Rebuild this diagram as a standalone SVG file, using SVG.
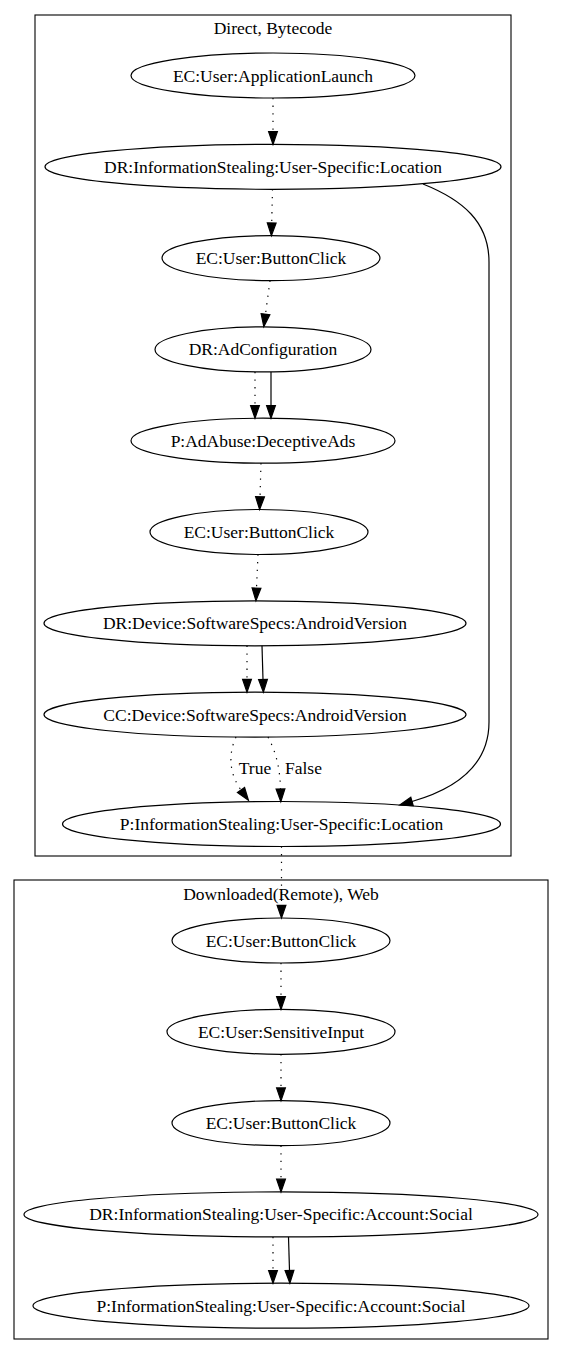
<svg xmlns="http://www.w3.org/2000/svg" width="563" height="1354" viewBox="0 0 563 1354">
  <style>
    .cluster { fill: none; stroke: #000; stroke-width: 1.1; }
    .node ellipse { fill: none; stroke: #000; stroke-width: 1.2; }
    text { font-family: "Liberation Serif", "Times New Roman", serif; font-size: 17.5px; fill: #000; }
    .node text, .title, .elabel.mid { text-anchor: middle; }
    .edge { fill: none; stroke: #000; stroke-width: 1.2; }
    .dot { stroke-dasharray: 1.3 6.3; marker-end: url(#headDot); }
    .solid { marker-end: url(#head); }
  </style>
  <defs>
    <marker id="head" markerUnits="userSpaceOnUse" markerWidth="14" markerHeight="10" refX="0" refY="0" orient="auto" overflow="visible">
      <polygon points="0,-4.4 12.7,0 0,4.4" fill="#000" stroke="#000" stroke-width="1.2"/>
    </marker>
    <marker id="headDot" markerUnits="userSpaceOnUse" markerWidth="14" markerHeight="10" refX="0" refY="0" orient="auto" overflow="visible">
      <polygon points="0,-4.4 12.7,0 0,4.4" fill="#000" stroke="#000" stroke-width="1.2"/>
    </marker>
  </defs>
  <rect x="0" y="0" width="563" height="1354" fill="#fff"/>

  <!-- clusters -->
  <g id="cluster_direct">
    <rect class="cluster" x="35" y="15" width="476" height="841"/>
    <text class="title" x="273" y="34">Direct, Bytecode</text>
  </g>
  <g id="cluster_remote">
    <rect class="cluster" x="14" y="880" width="534" height="459"/>
    <text class="title" x="281" y="900">Downloaded(Remote), Web</text>
  </g>

  <!-- nodes: Direct, Bytecode -->
  <g id="n1" class="node"><ellipse cx="273" cy="75.5" rx="142" ry="22.5"/><text x="273" y="81.5">EC:User:ApplicationLaunch</text></g>
  <g id="n2" class="node"><ellipse cx="273" cy="166.8" rx="228" ry="22.5"/><text x="273" y="172.8">DR:InformationStealing:User-Specific:Location</text></g>
  <g id="n3" class="node"><ellipse cx="271" cy="258.1" rx="109" ry="22.5"/><text x="271" y="264.1">EC:User:ButtonClick</text></g>
  <g id="n4" class="node"><ellipse cx="263" cy="349.4" rx="108" ry="22.5"/><text x="263" y="355.4">DR:AdConfiguration</text></g>
  <g id="n5" class="node"><ellipse cx="263" cy="440.7" rx="132" ry="22.5"/><text x="263" y="446.7">P:AdAbuse:DeceptiveAds</text></g>
  <g id="n6" class="node"><ellipse cx="259" cy="532" rx="109" ry="22.5"/><text x="259" y="538">EC:User:ButtonClick</text></g>
  <g id="n7" class="node"><ellipse cx="255" cy="623.3" rx="211" ry="22.5"/><text x="255" y="629.3">DR:Device:SoftwareSpecs:AndroidVersion</text></g>
  <g id="n8" class="node"><ellipse cx="255" cy="714.6" rx="211" ry="22.5"/><text x="255" y="720.6">CC:Device:SoftwareSpecs:AndroidVersion</text></g>
  <g id="n9" class="node"><ellipse cx="281.5" cy="824" rx="219" ry="22.5"/><text x="281.5" y="830">P:InformationStealing:User-Specific:Location</text></g>

  <!-- nodes: Downloaded(Remote), Web -->
  <g id="n10" class="node"><ellipse cx="281" cy="940.5" rx="109" ry="22.5"/><text x="281" y="946.5">EC:User:ButtonClick</text></g>
  <g id="n11" class="node"><ellipse cx="281" cy="1031.8" rx="114" ry="22.5"/><text x="281" y="1037.8">EC:User:SensitiveInput</text></g>
  <g id="n12" class="node"><ellipse cx="281" cy="1123.1" rx="109" ry="22.5"/><text x="281" y="1129.1">EC:User:ButtonClick</text></g>
  <g id="n13" class="node"><ellipse cx="281" cy="1214.4" rx="257" ry="22.5"/><text x="281" y="1220.4">DR:InformationStealing:User-Specific:Account:Social</text></g>
  <g id="n14" class="node"><ellipse cx="281" cy="1305.7" rx="248" ry="22.5"/><text x="281" y="1311.7">P:InformationStealing:User-Specific:Account:Social</text></g>

  <!-- connectors -->
  <g id="edges">
    <path class="edge dot" d="M273,98 L273,131.6"/>
    <path class="edge dot" d="M272.5,189.3 L271.7,222.9"/>
    <path class="edge dot" d="M270,280.6 L265.5,314.2"/>
    <path class="edge dot" d="M255,371.9 L255,405.5"/>
    <path class="edge solid" d="M271,371.9 L271,405.5"/>
    <path class="edge dot" d="M261,463.2 L260,496.8"/>
    <path class="edge dot" d="M258,554.5 L256.5,588.1"/>
    <path class="edge dot" d="M247,645.8 L247,679.4"/>
    <path class="edge solid" d="M262,645.8 L263,679.4"/>
    <path class="edge dot" d="M236,737 C229,752 228,772 241,790"/>
    <path class="edge dot" d="M268,737 C276,752 280,768 280.5,789"/>
    <path class="edge solid" d="M423,184 C463,200 489,222 489,262 L489,722 C489,768 452,790 412,801.5"/>
    <path class="edge dot" d="M281.5,846.5 L281.5,905.3"/>
    <path class="edge dot" d="M281,963 L281,996.6"/>
    <path class="edge dot" d="M281,1054.3 L281,1087.9"/>
    <path class="edge dot" d="M281,1145.6 L281,1179.2"/>
    <path class="edge dot" d="M273,1236.9 L273,1270.5"/>
    <path class="edge solid" d="M288.5,1236.9 L289.5,1270.5"/>
    <text class="elabel mid" x="255" y="774">True</text>
    <text class="elabel" x="285" y="774">False</text>
  </g>
</svg>
